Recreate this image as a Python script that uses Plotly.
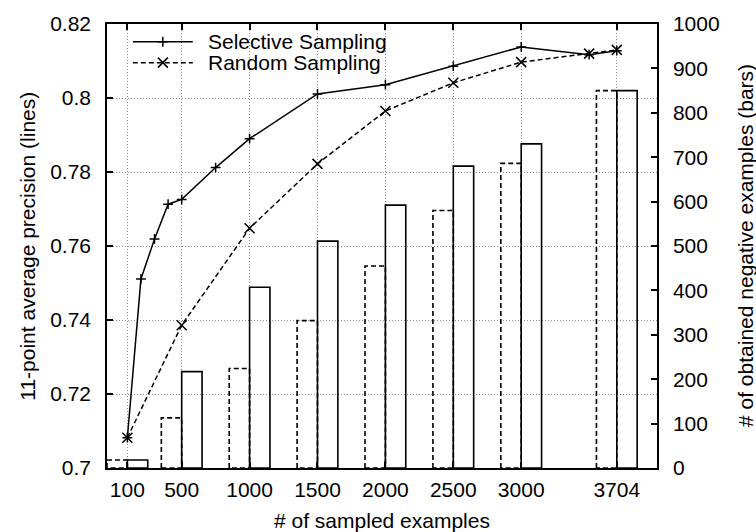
import plotly.graph_objects as go

# ---- data ----
sel_x = [100, 200, 300, 400, 500, 750, 1000, 1500, 2000, 2500, 3000, 3500, 3704]
sel_y = [0.7082, 0.7511, 0.7619, 0.7713, 0.7726, 0.7812, 0.7890, 0.8011, 0.8036, 0.8086, 0.8138, 0.8117, 0.8128]
rand_x = [100, 500, 1000, 1500, 2000, 2500, 3000, 3500, 3704]
rand_y = [0.7082, 0.7386, 0.7648, 0.7822, 0.7965, 0.8041, 0.8097, 0.8120, 0.8130]

bar_x = [100, 500, 1000, 1500, 2000, 2500, 3000, 3704]
bar_random = [18, 113, 224, 332, 455, 580, 686, 850]
bar_selective = [18, 217, 407, 511, 592, 680, 730, 850]
bar_width = 150

x_ticks = [100, 500, 1000, 1500, 2000, 2500, 3000, 3704]
y_ticks = [0.70, 0.72, 0.74, 0.76, 0.78, 0.80, 0.82]
y_tick_labels = ["0.7", "0.72", "0.74", "0.76", "0.78", "0.8", "0.82"]
y2_ticks = list(range(0, 1001, 100))

FONT = "Liberation Sans, Arial, Helvetica, sans-serif"
FS = 21


def box_path(xs, vals, left):
    px, py = [], []
    for x, v in zip(xs, vals):
        x0, x1 = (x - bar_width, x) if left else (x, x + bar_width)
        px += [x0, x0, x1, x1, x0, None]
        py += [0, v, v, 0, 0, None]
    return px, py


fig = go.Figure()

# bars (right axis)
rx, ry = box_path(bar_x, bar_random, left=True)
fig.add_trace(go.Scatter(x=rx, y=ry, yaxis="y2", mode="lines", showlegend=False,
                         line=dict(color="black", width=1.6, dash="5px,3px"), hoverinfo="skip"))
sx, sy = box_path(bar_x, bar_selective, left=False)
fig.add_trace(go.Scatter(x=sx, y=sy, yaxis="y2", mode="lines", showlegend=False,
                         line=dict(color="black", width=1.6), hoverinfo="skip"))

# lines (left axis)
fig.add_trace(go.Scatter(x=rand_x, y=rand_y, mode="lines+markers", name="Random Sampling",
                         showlegend=False,
                         line=dict(color="black", width=1.5, dash="5px,3px"),
                         marker=dict(symbol="x-thin", size=10, line=dict(color="black", width=1.5))))
fig.add_trace(go.Scatter(x=sel_x, y=sel_y, mode="lines+markers", name="Selective Sampling",
                         showlegend=False,
                         line=dict(color="black", width=1.5),
                         marker=dict(symbol="cross-thin", size=7, line=dict(color="black", width=1.5))))

# custom legend on hidden overlay axes (fractions of plot area)
leg_items = [("Selective Sampling", 0.96, "solid", "cross-thin", 7),
             ("Random Sampling", 0.913, "5px,3px", "x-thin", 10)]
for name, yy, dash, sym, ms in leg_items:
    fig.add_trace(go.Scatter(x=[0.047, 0.156], y=[yy, yy], xaxis="x2", yaxis="y3", mode="lines",
                             showlegend=False, hoverinfo="skip",
                             line=dict(color="black", width=1.5, dash=dash)))
    fig.add_trace(go.Scatter(x=[0.1015], y=[yy], xaxis="x2", yaxis="y3", mode="markers",
                             showlegend=False, hoverinfo="skip",
                             marker=dict(symbol=sym, size=ms, line=dict(color="black", width=1.5))))
    fig.add_annotation(x=0.182, y=yy, xref="x2", yref="y3", text=name, showarrow=False,
                       xanchor="left", yanchor="middle", borderpad=0,
                       font=dict(family=FONT, size=FS, color="black"))

axis_common = dict(showline=True, linecolor="black", linewidth=1.5, ticks="inside",
                   ticklen=6, tickwidth=1.5, tickcolor="black", zeroline=False,
                   tickfont=dict(family=FONT, size=FS, color="black"))

fig.update_layout(
    width=756, height=532,
    margin=dict(l=107, r=99, t=20, b=64),
    paper_bgcolor="white", plot_bgcolor="white",
    showlegend=False,
    xaxis=dict(range=[-50, 4000], tickvals=x_ticks, mirror="ticks",
               showgrid=True, gridcolor="#8c8c8c", griddash="1px,2px", gridwidth=1,
               ticklabelstandoff=2, **axis_common),
    yaxis=dict(range=[0.70, 0.82], tickvals=y_ticks, ticktext=y_tick_labels, mirror=True,
               showgrid=True, gridcolor="#8c8c8c", griddash="1px,2px", gridwidth=1,
               ticklabelstandoff=10, **axis_common),
    yaxis2=dict(range=[0, 1000], tickvals=y2_ticks, overlaying="y", side="right",
                showgrid=False, ticklabelstandoff=10, **axis_common),
    xaxis2=dict(range=[0, 1], overlaying="x", visible=False),
    yaxis3=dict(range=[0, 1], overlaying="y", visible=False),
    font=dict(family=FONT, size=FS, color="black"),
)

# axis titles
fig.add_annotation(x=0.5, y=-0.118, xref="paper", yref="paper", yanchor="middle",
                   text="# of sampled examples", showarrow=False,
                   font=dict(family=FONT, size=FS, color="black"))
fig.add_annotation(x=-0.146, y=0.5, xref="paper", yref="paper", xanchor="center", textangle=-90,
                   text="11-point average precision (lines)", showarrow=False,
                   font=dict(family=FONT, size=FS, color="black"))
fig.add_annotation(x=1.16, y=0.5, xref="paper", yref="paper", xanchor="center", textangle=-90,
                   text="# of obtained negative examples (bars)", showarrow=False,
                   font=dict(family=FONT, size=FS, color="black"))

fig.write_html("out.html", config={"displayModeBar": False},
               post_script="document.body.style.margin='0';document.body.style.overflow='hidden';")
